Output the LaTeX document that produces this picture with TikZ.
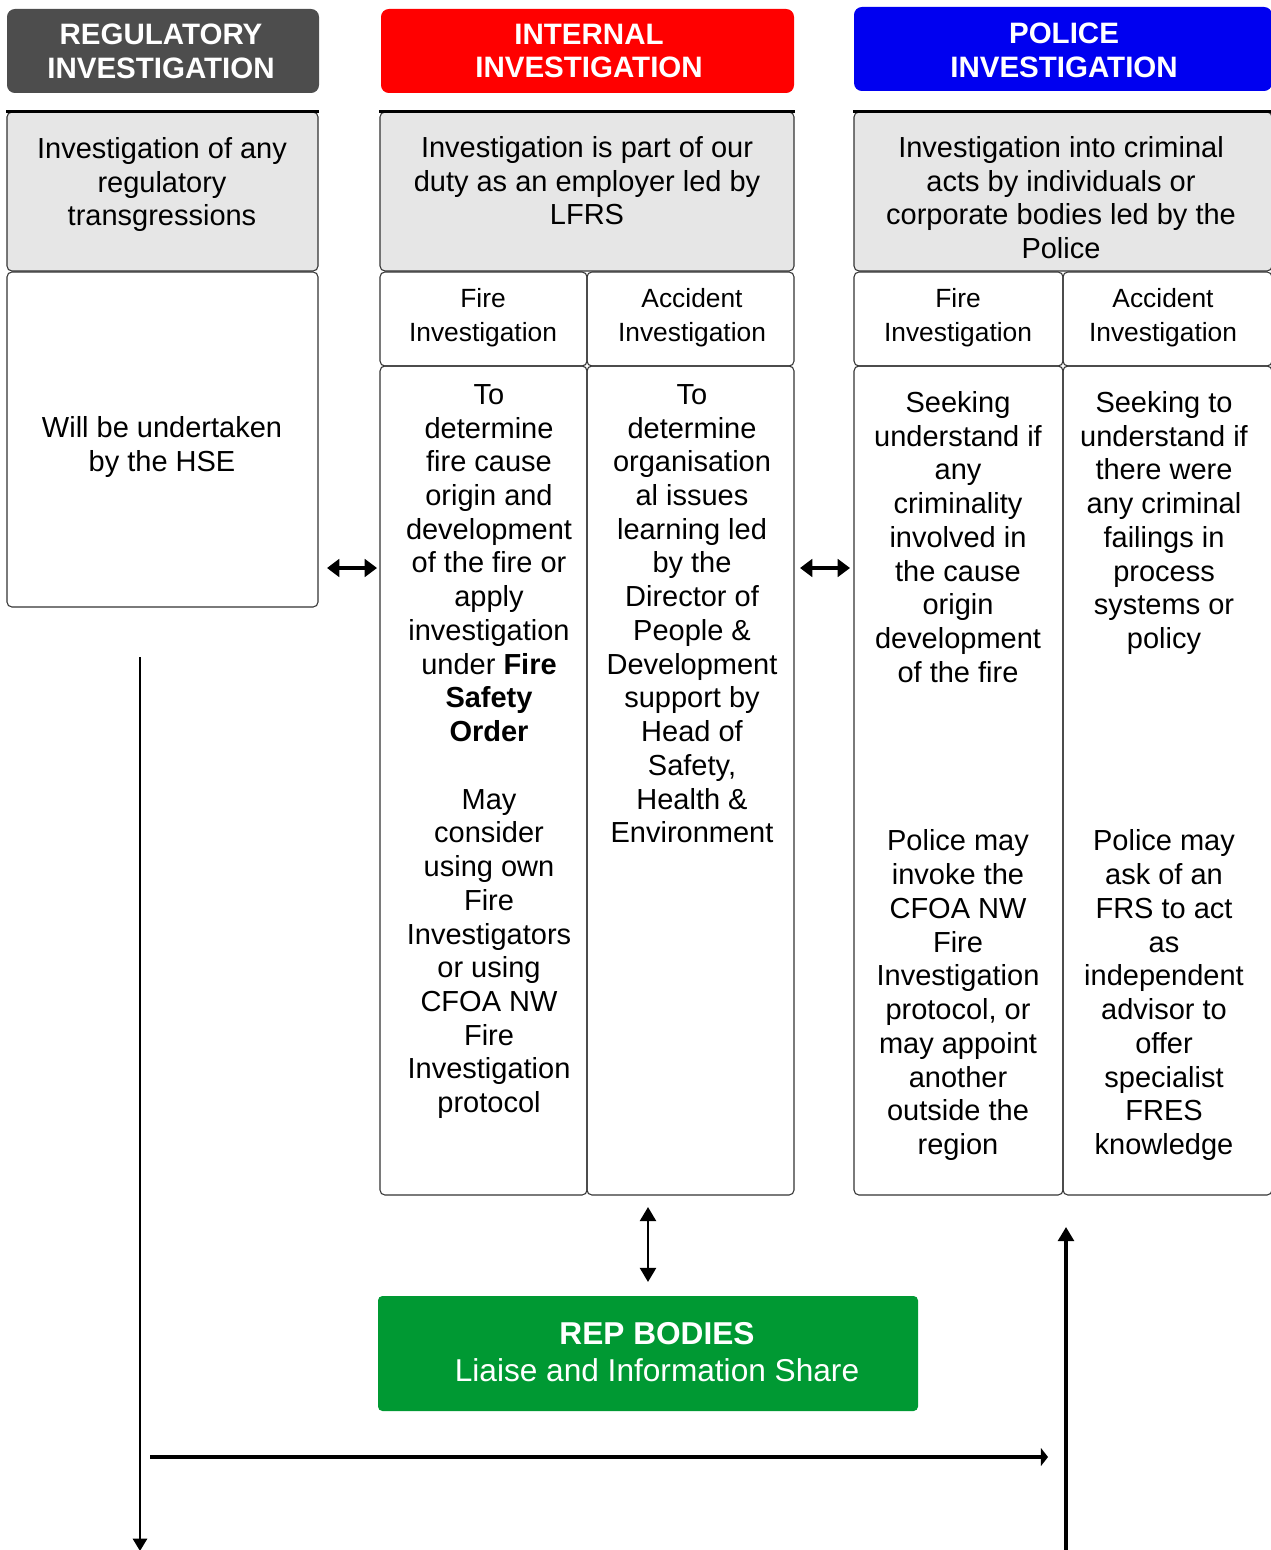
\documentclass[tikz,border=0pt]{standalone}
\usepackage{fontspec}
\setmainfont{Liberation Sans}
\usetikzlibrary{arrows.meta, positioning, fit}
\definecolor{regGray}{RGB}{77,77,77}
\definecolor{intRed}{RGB}{255,0,0}
\definecolor{polBlue}{RGB}{0,0,240}
\definecolor{repGreen}{RGB}{0,153,51}
\definecolor{cellGray}{RGB}{230,230,230}

\begin{document}
\begin{tikzpicture}[x=0.02cm, y=-0.02cm,
    head/.style={rounded corners=4.5pt, inner sep=0pt},
    headtext/.style={text=white, align=center, inner sep=0pt,
        font=\fontsize{16.8}{19.3}\selectfont\bfseries},
    cellbox/.style={draw=black!80, line width=0.6pt, rounded corners=2.8pt, inner sep=0pt},
    greycell/.style={cellbox, fill=cellGray},
    bodytext/.style={anchor=north, inner sep=0pt, align=center,
        font=\fontsize{16.5}{19.2}\selectfont},
    midtext/.style={inner sep=0pt, align=center,
        font=\fontsize{16.5}{19.2}\selectfont},
    subtext/.style={inner sep=0pt, align=center, font=\fontsize{15}{19.3}\selectfont},
    twoway/.style={{Triangle[length=7pt,width=10pt]}-{Triangle[length=7pt,width=10pt]}, line width=2.2pt},
    oneway/.style={-{Triangle[length=8pt,width=9pt]}, line width=1.8pt}]

    \useasboundingbox (0,0) rectangle (1270,1550);

    % Column heads
    \node[head, fill=regGray, fit={(7,9) (319,93)}] (reghead) {};
    \node[headtext] (regheadtext) at (161,51) {REGULATORY\\INVESTIGATION};
    \node[head, fill=intRed, fit={(381,9) (794,93)}] (inthead) {};
    \node[headtext] (intheadtext) at (589,51) {INTERNAL\\INVESTIGATION};
    \node[head, fill=polBlue, fit={(854,7) (1272,91)}] (polhead) {};
    \node[headtext] (polheadtext) at (1064,50) {POLICE\\INVESTIGATION};

    % Regulatory column
    \node[greycell, fit={(7,112) (318,271)}] (regtop) {};
    \node[bodytext] (regtoptext) at (162,137) {Investigation of any\\regulatory\\transgressions};
    \node[cellbox, fit={(7,272) (318,607)}] (regbody) {};
    \node[midtext] (regbodytext) at (162,447) {Will be undertaken\\by the HSE};

    % Internal column
    \node[greycell, fit={(380,112) (794,271)}] (inttop) {};
    \node[bodytext] (inttoptext) at (587,136) {Investigation is part of our\\duty as an employer led by\\LFRS};
    \node[cellbox, fit={(380,272) (587,366)}] (intfire) {};
    \node[subtext] (intfiretitle) at (483,318) {Fire\\Investigation};
    \node[cellbox, fit={(587,272) (794,366)}] (intacc) {};
    \node[subtext] (intacctitle) at (692,318) {Accident\\Investigation};
    \node[cellbox, fit={(380,366) (587,1195)}] (intfirebody) {};
    \node[cellbox, fit={(587,366) (794,1195)}] (intaccbody) {};
    \node[bodytext] (intfiretext) at (489,384) {To\\determine\\fire cause\\origin and\\development\\of the fire or\\apply\\investigation\\under \textbf{Fire}\\\textbf{Safety}\\\textbf{Order}\\[19.2pt]May\\consider\\using own\\Fire\\Investigators\\or using\\CFOA NW\\Fire\\Investigation\\protocol};
    \node[bodytext] (intacctext) at (692,384) {To\\determine\\organisation\\al issues\\learning led\\by the\\Director of\\People \&\\Development\\support by\\Head of\\Safety,\\Health \&\\Environment};

    % Police column
    \node[greycell, fit={(854,112) (1272,271)}] (poltop) {};
    \node[bodytext] (poltoptext) at (1061,136) {Investigation into criminal\\acts by individuals or\\corporate bodies led by the\\Police};
    \node[cellbox, fit={(854,272) (1063,366)}] (polfire) {};
    \node[subtext] (polfiretitle) at (958,318) {Fire\\Investigation};
    \node[cellbox, fit={(1063,272) (1272,366)}] (polacc) {};
    \node[subtext] (polacctitle) at (1163,318) {Accident\\Investigation};
    \node[cellbox, fit={(854,366) (1063,1195)}] (polfirebody) {};
    \node[cellbox, fit={(1063,366) (1272,1195)}] (polaccbody) {};
    \node[bodytext] (polfiretext) at (958,391) {Seeking\\understand if\\any\\criminality\\involved in\\the cause\\origin\\development\\of the fire\\[76.8pt]Police may\\invoke the\\CFOA NW\\Fire\\Investigation\\protocol, or\\may appoint\\another\\outside the\\region};
    \node[bodytext] (polacctext) at (1164,391) {Seeking to\\understand if\\there were\\any criminal\\failings in\\process\\systems or\\policy\\[96pt]Police may\\ask of an\\FRS to act\\as\\independent\\advisor to\\offer\\specialist\\FRES\\knowledge};

    % Heavy top rules
    \draw[line width=1.3pt] (regtop.north west) -- (regtop.north east);
    \draw[line width=1.3pt] (inttop.north west) -- (inttop.north east);
    \draw[line width=1.3pt] (poltop.north west) -- (poltop.north east);

    % Rep bodies
    \node[rounded corners=2.5pt, fill=repGreen, inner sep=0pt, fit={(378,1296) (918,1411)}] (rep) {};
    \node[text=white, align=center, inner sep=0pt, font=\fontsize{18}{21}\selectfont] (reptext) at (657,1352)
        {\textbf{REP BODIES}\\Liaise and Information Share};

    % Links
    \coordinate (regright) at (327,568);
    \coordinate (intleft) at (377,568);
    \coordinate (intright) at (800,568);
    \coordinate (polleft) at (850,568);
    \coordinate (intbelow) at (648,1207);
    \coordinate (repabove) at (648,1282);
    \coordinate (regdown) at (140,657);
    \coordinate (regend) at (140,1551);
    \coordinate (flowstart) at (150,1457);
    \coordinate (flowend) at (1048,1457);
    \coordinate (polup) at (1066,1553);
    \coordinate (polbelow) at (1066,1227);

    \draw[twoway] (regright) -- (intleft);
    \draw[twoway] (intright) -- (polleft);
    \draw[{Triangle[length=8pt,width=9pt]}-{Triangle[length=8pt,width=9pt]}, line width=1.6pt] (intbelow) -- (repabove);
    \draw[oneway, line width=1.4pt, -{Triangle[length=7pt,width=8pt]}] (regdown) -- (regend);
    \draw[oneway, line width=2.2pt, -{Triangle[length=4pt,width=10pt]}] (flowstart) -- (flowend);
    \draw[oneway] (polup) -- (polbelow);
\end{tikzpicture}
\end{document}
